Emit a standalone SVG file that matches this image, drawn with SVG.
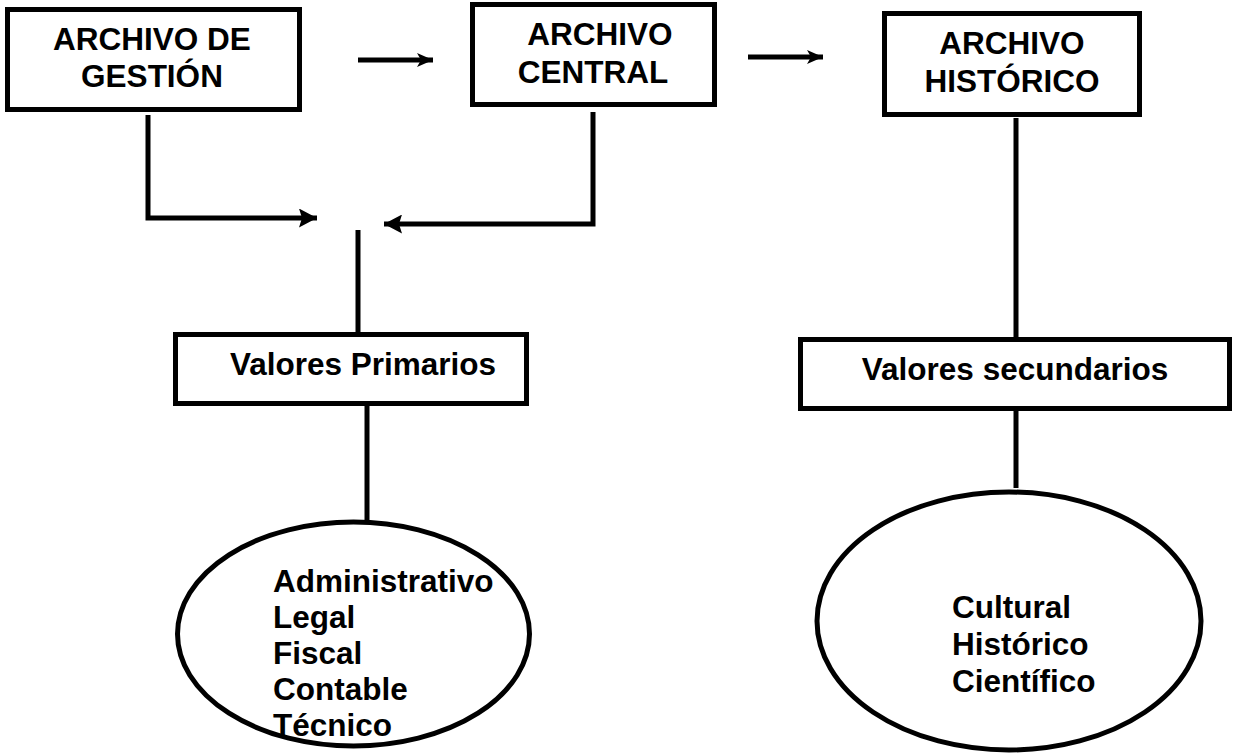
<svg xmlns="http://www.w3.org/2000/svg" width="1234" height="754" viewBox="0 0 1234 754">
  <style>
    .box { fill: #ffffff; stroke: #000000; stroke-width: 5; }
    .ell { fill: #ffffff; stroke: #000000; stroke-width: 5; }
    .t { font-family: "Liberation Sans", Arial, sans-serif; font-weight: bold; font-size: 31.5px; fill: #000000; }
    .c { text-anchor: middle; }
    .ln { fill: none; stroke: #000000; stroke-width: 5; }
  </style>
  <defs>
    <marker id="arrS" viewBox="0 0 16 14" markerWidth="16" markerHeight="14" markerUnits="userSpaceOnUse" refX="16" refY="7" orient="auto">
      <path d="M0,0 L16,7 L0,14 L4,7 z" fill="#000000"/>
    </marker>
    <marker id="arrL" viewBox="0 0 18 19" markerWidth="18" markerHeight="19" markerUnits="userSpaceOnUse" refX="18" refY="9.5" orient="auto">
      <path d="M0,0 L18,9.5 L0,19 L3,9.5 z" fill="#000000"/>
    </marker>
  </defs>
  <rect width="1234" height="754" fill="#ffffff"/>

  <g id="connectors">
    <line class="ln" x1="358" y1="60" x2="433" y2="60" marker-end="url(#arrS)"/>
    <line class="ln" x1="748" y1="57" x2="823" y2="57" marker-end="url(#arrS)"/>
    <polyline class="ln" points="148,115 148,218 317,218" marker-end="url(#arrL)"/>
    <polyline class="ln" points="593,112 593,224 384,224" marker-end="url(#arrL)"/>
    <line class="ln" x1="358" y1="230" x2="358" y2="334"/>
    <line class="ln" x1="367" y1="404" x2="367" y2="520"/>
    <line class="ln" x1="1016" y1="118" x2="1016" y2="339"/>
    <line class="ln" x1="1016" y1="409" x2="1016" y2="488"/>
  </g>

  <g id="archivo-gestion">
    <rect class="box" x="7.5" y="9.5" width="292" height="100"/>
    <text class="t c" x="152" y="50">ARCHIVO DE</text>
    <text class="t c" x="152" y="87">GESTIÓN</text>
  </g>

  <g id="archivo-central">
    <rect class="box" x="472.5" y="4.5" width="242" height="100"/>
    <text class="t c" x="600" y="45">ARCHIVO</text>
    <text class="t c" x="593" y="83">CENTRAL</text>
  </g>

  <g id="archivo-historico">
    <rect class="box" x="884.5" y="13.5" width="255" height="101"/>
    <text class="t c" x="1012" y="54">ARCHIVO</text>
    <text class="t c" x="1012" y="92">HISTÓRICO</text>
  </g>

  <g id="valores-primarios">
    <rect class="box" x="175.5" y="334.5" width="351" height="69"/>
    <text class="t c" x="363" y="375">Valores Primarios</text>
  </g>

  <g id="valores-secundarios">
    <rect class="box" x="800.5" y="339.5" width="429" height="69"/>
    <text class="t c" x="1015" y="380">Valores secundarios</text>
  </g>

  <g id="primarios-lista">
    <ellipse class="ell" cx="353.5" cy="634" rx="176" ry="112"/>
    <text class="t" x="273" y="592">Administrativo</text>
    <text class="t" x="273" y="628">Legal</text>
    <text class="t" x="273" y="664">Fiscal</text>
    <text class="t" x="273" y="700">Contable</text>
    <text class="t" x="273" y="736">Técnico</text>
  </g>

  <g id="secundarios-lista">
    <ellipse class="ell" cx="1009" cy="621" rx="192" ry="129"/>
    <text class="t" x="952" y="618">Cultural</text>
    <text class="t" x="952" y="655">Histórico</text>
    <text class="t" x="952" y="692">Científico</text>
  </g>
</svg>
